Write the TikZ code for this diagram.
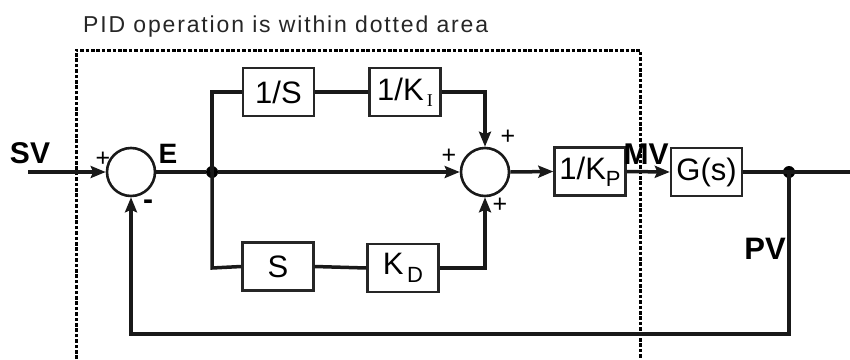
\documentclass[tikz,border=0pt]{standalone}
\usepackage{fontspec}
\setmainfont{Liberation Sans}
\newfontfamily\seriffont{Liberation Serif}
\newfontfamily\titlefont[LetterSpace=8]{Liberation Sans}
\usetikzlibrary{arrows.meta}
\tikzset{
  wire/.style={line width=3.5pt, black!90},
  arr/.style={wire, -{Stealth[length=15pt,width=12pt,inset=2.5pt]}},
  blk/.style={draw=black!85, line width=2.4pt, minimum width=71pt, minimum height=48pt, inner sep=0pt, font=\fontsize{31}{33}\selectfont},
  sumc/.style={draw=black!90, line width=2.6pt, circle, minimum size=48pt, inner sep=0pt},
  dotj/.style={circle, fill=black, minimum size=12pt, inner sep=0pt},
  sig/.style={font=\bfseries\fontsize{30}{32}\selectfont, inner sep=0pt},
  sgn/.style={font=\fontsize{25}{26}\selectfont, inner sep=0pt},
  zone/.style={line width=3pt, dash pattern=on 3.6pt off 1.8pt, black}
}
\begin{document}
\begin{tikzpicture}[x=1pt,y=-1pt]
\useasboundingbox (0,0) rectangle (850,359);
% title
\node[anchor=base west, inner sep=0pt, font=\titlefont\fontsize{23}{25}\selectfont, text=black!85] (title) at (83,32) {PID operation is within dotted area};
% dotted zone
\draw[zone] (76,359) -- (76,50) -- (640,50) -- (640,359);
% nodes
\node[sig] (sv) at (30,153) {SV};
\coordinate (svin) at (28,172);
\node[sumc] (s1) at (131,172) {};
\node[sig, font=\bfseries\fontsize{28}{30}\selectfont] (e) at (168,154) {E};
\node[dotj] (j1) at (212,172) {};
\node[blk] (inv) at (278.5,92) {1/S};
\node[blk] (ki) at (405,92) {1/K\raisebox{-6pt}{\fontsize{18}{18}\selectfont\seriffont\,I}};
\node[blk] (der) at (278,266.5) {S};
\node[blk] (kd) at (403,268) {K\raisebox{-8pt}{\fontsize{22}{22}\selectfont\,D}};
\node[sumc] (s2) at (485,172) {};
\coordinate (tr) at (485,92);
\coordinate (br) at (485,268);
\coordinate (tl) at (212,92);
\coordinate (bl) at (212,268);
\node[blk] (kp) at (590,171.5) {1/K\raisebox{-7pt}{\fontsize{22}{22}\selectfont P}};
\node[blk] (g) at (706.5,172) {G(s)};
\node[sig] (mv) at (646,154) {MV};
\node[dotj] (j2) at (789,172) {};
\coordinate (out) at (850,172);
\node[sig, font=\bfseries\fontsize{31}{33}\selectfont] (pv) at (765,249) {PV};
\coordinate (fbr) at (789,334);
\coordinate (fbl) at (131,334);
% signs
\node[sgn] (p1) at (103,159) {+};
\node[sgn, font=\bfseries\fontsize{30}{30}\selectfont] (m1) at (148,205) {-};
\node[sgn] (p2) at (449,156) {+};
\node[sgn] (p3) at (508,137) {+};
\node[sgn] (p4) at (500,205) {+};
% wires
\draw[arr] (svin) -- (s1.west);
\draw[wire] (s1.east) -- (j1);
\draw[arr] (j1) -- (s2.west);
\draw[wire] (j1.center) -- (tl) -- (inv.west);
\draw[wire] (inv.east) -- (ki.west);
\draw[arr] (ki.east) -- (tr) -- (s2.north);
\draw[wire] (j1.center) -- (bl) -- (der.west);
\draw[wire] (der.east) -- (kd.west);
\draw[arr] (kd.east) -- (br) -- (s2.south);
\draw[arr] (s2.east) -- (kp.west);
\draw[arr] (kp.east) -- (g.west);
\draw[wire] (g.east) -- (out);
\draw[arr] (j2.center) -- (fbr) -- (fbl) -- (s1.south);
\end{tikzpicture}
\end{document}
